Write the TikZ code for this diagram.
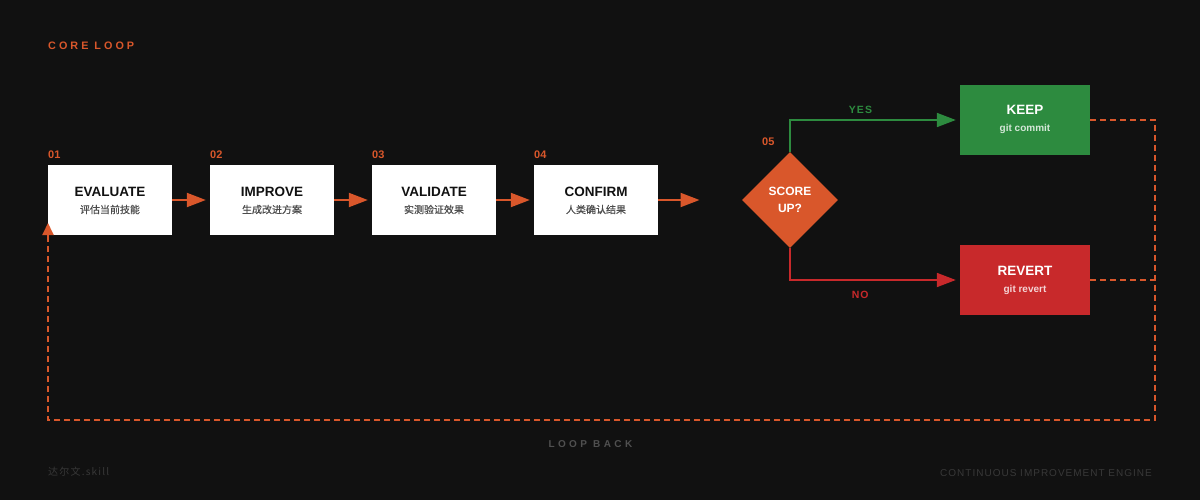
\documentclass[tikz,border=0pt]{standalone}
\usepackage{fontspec}
\setmainfont{Liberation Sans}
\newfontfamily\cjk[FakeBold=0.4]{Noto Sans CJK SC}
\newfontfamily\cjkspaced[LetterSpace=12]{Noto Sans CJK SC}
\newfontfamily\widecaps[LetterSpace=28]{Liberation Sans}
\newfontfamily\loopfont[LetterSpace=34]{Liberation Sans}
\newfontfamily\branchfont[LetterSpace=10]{Liberation Sans}
\newfontfamily\footfont[LetterSpace=10]{Liberation Sans}
\usetikzlibrary{arrows.meta,shapes.geometric}

\definecolor{bg}{HTML}{111111}
\definecolor{accent}{HTML}{D9572B}
\definecolor{keepgreen}{HTML}{2D8B3F}
\definecolor{revred}{HTML}{C8292B}
\definecolor{ink}{HTML}{111111}
\definecolor{subgray}{HTML}{4C4C4C}
\definecolor{loopgray}{HTML}{505050}
\definecolor{footgray}{HTML}{383838}
\colorlet{keepsub}{white!80!keepgreen}
\colorlet{revsub}{white!80!revred}

\begin{document}
\begin{tikzpicture}[x=1pt,y=-1pt,
  stepbox/.style={draw=none,fill=white,minimum width=124pt,minimum height=70pt,inner sep=0pt},
  outbox/.style={draw=none,minimum width=130pt,minimum height=70pt,inner sep=0pt},
  boxtitle/.style={anchor=base,inner sep=0pt,font=\fontsize{13.5}{15}\selectfont\bfseries},
  boxsub/.style={anchor=base,inner sep=0pt,font=\cjk\fontsize{10}{12}\selectfont,text=subgray},
  outsub/.style={anchor=base,inner sep=0pt,font=\fontsize{10}{12}\selectfont\bfseries},
  stepnum/.style={anchor=base west,inner sep=0pt,font=\fontsize{11}{12}\selectfont\bfseries,text=accent},
  flow/.style={draw=accent,line width=2pt,-{Triangle[length=19pt,width=14pt]}},
  branch/.style={line width=1.8pt,-{Triangle[length=19pt,width=14pt]}},
  loopline/.style={draw=accent,line width=1.8pt,dash pattern=on 6pt off 4pt},
  branchlabel/.style={anchor=base,inner sep=0pt,font=\branchfont\fontsize{10.5}{12}\selectfont\bfseries},
]
\useasboundingbox (0,0) rectangle (1200,500);
\fill[bg] (0,0) rectangle (1200,500);

% header
\node[anchor=base west,inner sep=0pt,text=accent,font=\widecaps\fontsize{10.8}{12}\selectfont\bfseries] (header) at (48,50) {CORE LOOP};

% step boxes
\node[stepbox] (evaluate) at (110,200) {};
\node[stepbox] (improve) at (272,200) {};
\node[stepbox] (validate) at (434,200) {};
\node[stepbox] (confirm) at (596,200) {};

\node[boxtitle,text=ink] (evaluate-t) at (110,196.7) {EVALUATE};
\node[boxsub] (evaluate-s) at (110,213.3) {评估当前技能};
\node[boxtitle,text=ink] (improve-t) at (272,196.7) {IMPROVE};
\node[boxsub] (improve-s) at (272,213.3) {生成改进方案};
\node[boxtitle,text=ink] (validate-t) at (434,196.7) {VALIDATE};
\node[boxsub] (validate-s) at (434,213.3) {实测验证效果};
\node[boxtitle,text=ink] (confirm-t) at (596,196.7) {CONFIRM};
\node[boxsub] (confirm-s) at (596,213.3) {人类确认结果};

\node[stepnum] (n1) at (48,158.3) {01};
\node[stepnum] (n2) at (210,158.3) {02};
\node[stepnum] (n3) at (372,158.3) {03};
\node[stepnum] (n4) at (534,158.3) {04};
\node[stepnum] (n5) at (762,145.7) {05};

% flow arrows
\draw[flow,shorten >=4pt] (evaluate.east) -- (improve.west);
\draw[flow,shorten >=4pt] (improve.east) -- (validate.west);
\draw[flow,shorten >=4pt] (validate.east) -- (confirm.west);
\coordinate (gapend) at (699.5,200);
\draw[flow] (confirm.east) -- (gapend);

% decision
\node[diamond,fill=accent,draw=none,minimum width=96pt,minimum height=96pt,inner sep=0pt] (decide) at (790,200) {};
\node[anchor=base,inner sep=0pt,text=white,font=\fontsize{12}{13}\selectfont\bfseries] (decide-a) at (790,195.7) {SCORE};
\node[anchor=base,inner sep=0pt,text=white,font=\fontsize{12}{13}\selectfont\bfseries] (decide-b) at (790,212.3) {UP?};

% outcomes
\node[outbox,fill=keepgreen] (keep) at (1025,120) {};
\node[boxtitle,text=white] (keep-t) at (1025,115) {KEEP};
\node[outsub,text=keepsub] (keep-s) at (1025,132) {git commit};
\node[outbox,fill=revred] (revert) at (1025,280) {};
\node[boxtitle,text=white] (revert-t) at (1025,275) {REVERT};
\node[outsub,text=revsub] (revert-s) at (1025,292) {git revert};

\draw[branch,draw=keepgreen,shorten >=4pt] (decide.north) |- (keep.west);
\draw[branch,draw=revred,shorten >=4pt] (decide.south) |- (revert.west);
\node[branchlabel,text=keepgreen] (yes) at (860.5,113.3) {YES};
\node[branchlabel,text=revred] (no) at (860.2,298.3) {NO};

% loop back
\coordinate (kr) at (1155,120);
\coordinate (rr) at (1155,280);
\coordinate (br) at (1155,420);
\coordinate (bl) at (48,420);
\coordinate (loopend) at (48,223);
\draw[loopline] (keep.east) -- (kr) -- (br) -- (bl) -- (loopend);
\draw[draw=accent,line width=1.8pt,-{Triangle[length=12pt,width=11pt]}] (48,236) -- (loopend);
\draw[loopline] (revert.east) -- (rr);

\node[anchor=base,inner sep=0pt,text=loopgray,font=\loopfont\fontsize{10}{12}\selectfont\bfseries] (loopback) at (590.4,447.7) {LOOP BACK};

% footer
\node[anchor=base west,inner sep=0pt,text=footgray,font=\cjkspaced\fontsize{10}{12}\selectfont] (brand) at (48,475.7) {达尔文.skill};
\node[anchor=base east,inner sep=0pt,text=footgray,font=\footfont\fontsize{10}{12}\selectfont] (engine) at (1152,476.7) {CONTINUOUS IMPROVEMENT ENGINE};
\end{tikzpicture}
\end{document}
